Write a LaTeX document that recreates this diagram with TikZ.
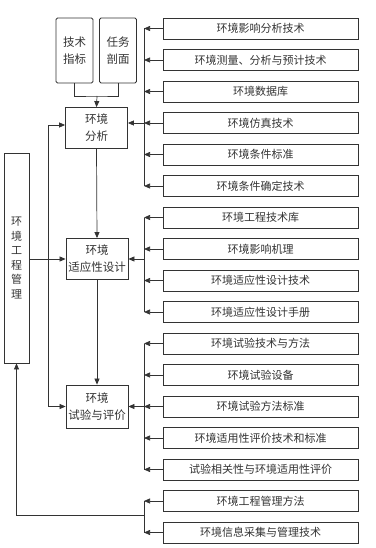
\documentclass[tikz,border=0pt]{standalone}
\usepackage{fontspec}
\newfontfamily\cjk{Noto Sans CJK SC}
\usetikzlibrary{positioning, arrows.meta, calc}

\begin{document}
\begin{tikzpicture}[
    x=1pt, y=-1pt,
    font=\cjk\fontsize{11}{13}\selectfont,
    every node/.style={text=black!80},
    techbox/.style={
        draw=black!80, line width=0.8pt,
        minimum width=195pt, minimum height=21pt,
        inner sep=1pt
    },
    stagebox/.style={
        draw=black!80, line width=0.8pt,
        minimum width=62pt, minimum height=41pt,
        inner sep=1pt, align=center,
        font=\cjk\fontsize{11.5}{17}\selectfont
    },
    inputbox/.style={
        draw=black!80, line width=0.8pt, rounded corners=1.5pt,
        minimum width=37pt, minimum height=65pt,
        inner sep=1pt, align=center,
        font=\cjk\fontsize{11.5}{17}\selectfont
    },
    link/.style={draw=black!80, line width=0.7pt},
    feed/.style={
        -{Triangle[length=6pt,width=5pt]},
        draw=black!80, line width=0.7pt
    }
]
\useasboundingbox (0,0) rectangle (375,548);

%% ── Input boxes ────────────────────────────
\node[inputbox] (spec) at (74.5,50.5) {技术\\指标};
\node[inputbox] (prof) at (118,50.5) {任务\\剖面};

%% ── Stages ─────────────────────────────────
\node[stagebox] (ana)    at (96.5,128)   {环境\\分析};
\node[stagebox] (design) at (97,259)     {环境\\适应性设计};
\node[stagebox, minimum height=43pt] (test) at (97,406.5) {环境\\试验与评价};

%% ── Management box (vertical text) ──────────
\node[draw=black!80, line width=0.8pt, minimum width=25pt, minimum height=210pt,
      inner sep=1pt, align=center, font=\cjk\fontsize{11}{14.5}\selectfont]
    (mgmt) at (16.5,258) {环\\境\\工\\程\\管\\理};

%% ── Technology boxes ───────────────────────
\foreach \i/\txt in {
    1/环境影响分析技术, 2/环境测量、分析与预计技术, 3/环境数据库,
    4/环境仿真技术, 5/环境条件标准, 6/环境条件确定技术,
    7/环境工程技术库, 8/环境影响机理, 9/环境适应性设计技术,
    10/环境适应性设计手册, 11/环境试验技术与方法, 12/环境试验设备,
    13/环境试验方法标准, 14/环境适用性评价技术和标准,
    15/试验相关性与环境适用性评价, 16/环境工程管理方法,
    17/环境信息采集与管理技术}{
    \node[techbox] (t\i) at (260.5,{28.5+31.5*(\i-1)}) {\txt};
}

% bus lines
\coordinate (busx) at (144,0);
\coordinate (lx) at (48,0);

\foreach \i in {1,...,17}{
    \draw[feed] (t\i.west) -- (t\i.west -| busx);
}
\draw[link] (t1.west -| busx) -- (t6.west -| busx);
\draw[link] (t7.west -| busx) -- (t10.west -| busx);
\draw[link] (t11.west -| busx) -- (t15.west -| busx);
\draw[link] (t16.west -| busx) -- (t17.west -| busx);

% buses into the stages
\draw[feed] (t4.west -| busx) -- (t4.west -| ana.east);
\draw[feed] (design.east -| busx) -- (design.east);
\draw[feed] (test.east -| busx) -- (test.east);

% management feedback
\coordinate (g4) at (144,515);
\draw[feed] (g4) -| (mgmt.south);
\draw[feed] (mgmt.east |- design.west) -- (design.west);
\draw[feed] (test.west -| lx) |- ([yshift=3pt]ana.west);
\draw[feed] (test.west -| lx) -- (test.west);

%% ── Stage chain ────────────────────────────
\coordinate (join) at (97,96);
\draw[link] (spec.south) |- (join) -| (prof.south);
\draw[feed] (join) -- (ana.north);
\draw[feed] (ana.south) -- (design.north);
\draw[feed] (design.south) -- (test.north);

\end{tikzpicture}
\end{document}
